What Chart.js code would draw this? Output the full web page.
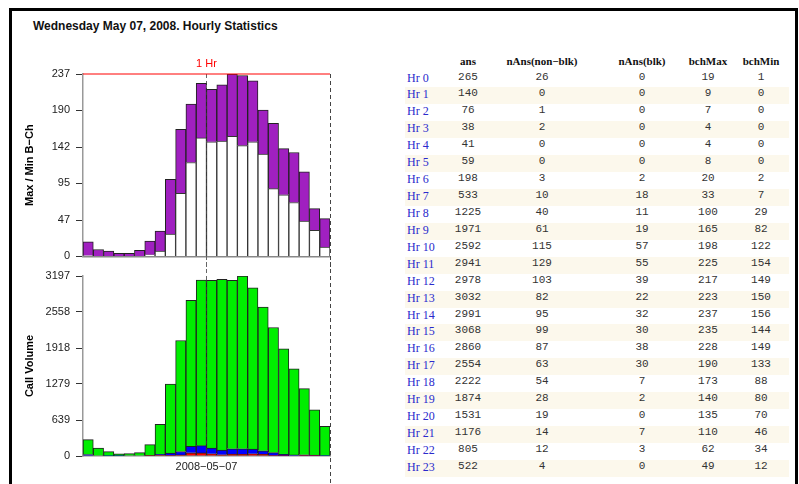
<!DOCTYPE html>
<html>
<head>
<meta charset="utf-8">
<script src="https://cdn.jsdelivr.net/npm/chart.js@4.4.1/dist/chart.umd.min.js"></script>
<style>
  body { margin: 0; background: #fff; width: 799px; height: 484px; overflow: hidden; position: relative; }
  #frame { position: absolute; left: 9px; top: 8px; width: 783px; height: 500px; border: 3px solid #000; }
  #title { position: absolute; left: 33px; top: 19px; font: bold 12px "Liberation Sans", Arial, sans-serif; color: #111; }
  canvas { position: absolute; }
  .cell { position: absolute; width: 90px; text-align: center; line-height: 17px; height: 17px; }
  .hd { font: bold 11px "Liberation Serif", "Times New Roman", serif; color: #111; }
  .val { font: 11px "Liberation Mono", "Courier New", monospace; color: #333; }
  .hr { position: absolute; left: 407px; line-height: 17px; height: 17px; font: 12px "Liberation Serif", "Times New Roman", serif; color: #2a2acc; }
  .band { position: absolute; left: 405px; width: 384px; height: 17px; background: #fcf8ec; }
</style>
</head>
<body>
<div id="frame"></div>
<div id="title">Wednesday May 07, 2008. Hourly Statistics</div>
<div id="tbl"></div>
<canvas id="topChart" width="325" height="219" style="left:15px;top:50px"></canvas>
<canvas id="bottomChart" width="325" height="222" style="left:15px;top:262px"></canvas>
<script>
"use strict";
const hours = ["Hr 0","Hr 1","Hr 2","Hr 3","Hr 4","Hr 5","Hr 6","Hr 7","Hr 8","Hr 9","Hr 10","Hr 11",
  "Hr 12","Hr 13","Hr 14","Hr 15","Hr 16","Hr 17","Hr 18","Hr 19","Hr 20","Hr 21","Hr 22","Hr 23"];
const ans = [265,140,76,38,41,59,198,533,1225,1971,2592,2941,2978,3032,2991,3068,2860,2554,2222,1874,1531,1176,805,522];
const nAnsNonBlk = [26,0,1,2,0,0,3,10,40,61,115,129,103,82,95,99,87,63,54,28,19,14,12,4];
const nAnsBlk = [0,0,0,0,0,0,2,18,11,19,57,55,39,22,32,30,38,30,7,2,0,7,3,0];
const bchMax = [19,9,7,4,4,8,20,33,100,165,198,225,217,223,237,235,228,190,173,140,135,110,62,49];
const bchMin = [1,0,0,0,0,0,2,7,29,82,122,154,149,150,156,144,149,133,88,80,70,46,34,12];
const topTicks = [0,47,95,142,190,237];
const bottomTicks = [0,639,1279,1918,2558,3197];
const headers = ["ans","nAns(non−blk)","nAns(blk)","bchMax","bchMin"];

// table on the right
const colX = [468,542,642,708,761];
let html = "";
headers.forEach((h, c) => {
  html += `<div class="cell hd" style="left:${colX[c]-45}px;top:${63-8.5}px">${h}</div>`;
});
hours.forEach((h, i) => {
  let cy = 79 + i * 16.93;
  if (i % 2 == 1) html += `<div class="band" style="top:${cy-8.5}px"></div>`;
  html += `<div class="hr" style="top:${cy-8.5}px">${h}</div>`;
  [ans[i], nAnsNonBlk[i], nAnsBlk[i], bchMax[i], bchMin[i]].forEach((v, c) => {
    html += `<div class="cell val" style="left:${colX[c]-45}px;top:${cy-8.5}px">${v}</div>`;
  });
});
document.getElementById("tbl").innerHTML = html;

const font = "'Liberation Sans', Arial, sans-serif";

function decor(isTop) {
  return {
    id: "decor",
    beforeDatasetsDraw(chart) {
      const ctx = chart.ctx, a = chart.chartArea, x = chart.scales.x;
      const mid = (x.getPixelForValue(11) + x.getPixelForValue(12)) / 2;
      ctx.save();
      ctx.strokeStyle = "#666";
      ctx.lineWidth = 1;
      ctx.setLineDash([4, 3]);
      ctx.beginPath();
      if (isTop) { ctx.moveTo(mid, a.top); ctx.lineTo(mid, chart.height); }
      else { ctx.moveTo(mid, 0); ctx.lineTo(mid, a.bottom); }
      ctx.stroke();
      ctx.restore();
    },
    afterDraw(chart) {
      const ctx = chart.ctx, a = chart.chartArea, x = chart.scales.x;
      const mid = (x.getPixelForValue(11) + x.getPixelForValue(12)) / 2;
      ctx.save();
      ctx.strokeStyle = "#444";
      ctx.lineWidth = 1;
      ctx.setLineDash([4, 3]);
      ctx.beginPath();
      ctx.moveTo(a.right + 0.5, isTop ? a.top : 0);
      ctx.lineTo(a.right + 0.5, chart.height);
      ctx.stroke();
      if (isTop) {
        ctx.setLineDash([]);
        ctx.strokeStyle = "#ff0000";
        ctx.beginPath();
        ctx.moveTo(a.left, a.top);
        ctx.lineTo(a.right, a.top);
        ctx.stroke();
        ctx.fillStyle = "#ff0000";
        ctx.font = "11px " + font;
        ctx.textAlign = "center";
        ctx.textBaseline = "middle";
        ctx.fillText("1 Hr", mid, a.top - 10);
      }
      ctx.restore();
    }
  };
}

function yScale(max, ticks, title) {
  return {
    stacked: true,
    min: 0,
    max: max,
    afterBuildTicks: (s) => { s.ticks = ticks.map((v) => ({ value: v })); },
    afterFit: (s) => { s.width = 68; },
    ticks: { font: { family: font, size: 11 }, color: "#222", padding: 6,
      callback: (v) => String(v) },
    grid: { drawOnChartArea: false, drawTicks: true, tickLength: 7, color: "#333" },
    border: { display: true, color: "#999", width: 1.5 },
    title: { display: true, text: title, color: "#000", padding: { top: 8, bottom: 0 },
      font: { family: font, size: 11, weight: "bold" } }
  };
}

const common = {
  responsive: false,
  animation: false,
  devicePixelRatio: 1,
  plugins: { legend: { display: false }, tooltip: { enabled: false } }
};

new Chart(document.getElementById("topChart").getContext("2d"), {
  type: "bar",
  data: {
    labels: hours,
    datasets: [
      { data: bchMin, backgroundColor: "#ffffff", borderColor: "#333", borderWidth: 1,
        barPercentage: 1, categoryPercentage: 1 },
      { data: bchMax.map((v, i) => v - bchMin[i]), backgroundColor: "#a020c0", borderColor: "#222",
        borderWidth: 1, barPercentage: 1, categoryPercentage: 1 }
    ]
  },
  options: Object.assign({}, common, {
    layout: { padding: { top: 24, right: 10, bottom: 5, left: 0 } },
    scales: {
      x: { stacked: true, ticks: { display: false }, grid: { display: false },
        border: { display: true, color: "#888", width: 1.5 },
        afterFit: (s) => { s.height = 0; } },
      y: yScale(237, topTicks, "Max / Min B−Ch")
    }
  }),
  plugins: [decor(true)]
});

new Chart(document.getElementById("bottomChart").getContext("2d"), {
  type: "bar",
  data: {
    labels: hours,
    datasets: [
      { data: nAnsBlk, backgroundColor: "#ff0000", borderColor: "#222", borderWidth: 1,
        barPercentage: 1, categoryPercentage: 1 },
      { data: nAnsNonBlk, backgroundColor: "#0000ff", borderColor: "#222", borderWidth: 1,
        barPercentage: 1, categoryPercentage: 1 },
      { data: ans, backgroundColor: "#00ee00", borderColor: "#222", borderWidth: 1,
        barPercentage: 1, categoryPercentage: 1 }
    ]
  },
  options: Object.assign({}, common, {
    layout: { padding: { top: 14, right: 10, bottom: 0, left: 0 } },
    scales: {
      x: { stacked: true, ticks: { display: false }, grid: { display: false },
        border: { display: true, color: "#888", width: 1.5 },
        title: { display: true, text: "2008−05−07", color: "#222", padding: { top: 0, bottom: 10 },
          font: { family: font, size: 11 } },
        afterFit: (s) => { s.height = 28; } },
      y: yScale(3197, bottomTicks, "Call Volume")
    }
  }),
  plugins: [decor(false)]
});
</script>
</body>
</html>
